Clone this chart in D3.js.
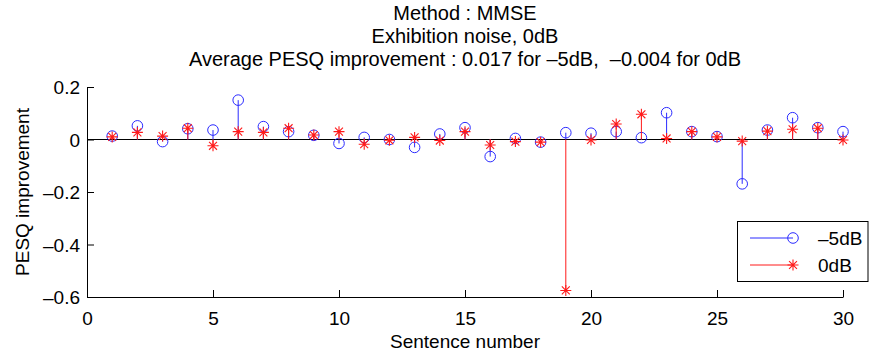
<!DOCTYPE html>
<html>
<head>
<meta charset="utf-8">
<script src="https://cdn.jsdelivr.net/npm/d3@7/dist/d3.min.js"></script>
<style>
  html, body { margin: 0; padding: 0; background: #fff; }
  svg { display: block; font-family: "Liberation Sans", Arial, sans-serif; }
</style>
</head>
<body>
<svg id="chart" width="869" height="358"></svg>
<script>
// Sentence indices
const sentences = d3.range(1, 31);

// PESQ improvement per sentence at -5 dB input SNR
const improvementM5 = [
  0.013, 0.052, -0.008, 0.041, 0.036, 0.150, 0.049, 0.030, 0.016, -0.015,
  0.008, 0.000, -0.030, 0.021, 0.045, -0.065, 0.004, -0.010, 0.026, 0.024,
  0.030, 0.007, 0.102, 0.030, 0.011, -0.169, 0.036, 0.083, 0.045, 0.030
];

// PESQ improvement per sentence at 0 dB input SNR
const improvement0 = [
  0.010, 0.027, 0.013, 0.043, -0.024, 0.030, 0.027, 0.043, 0.017, 0.030,
  -0.018, -0.003, 0.008, -0.004, 0.030, -0.021, -0.008, -0.010, -0.575, -0.002,
  0.059, 0.096, 0.004, 0.030, 0.010, -0.006, 0.032, 0.039, 0.043, -0.002
];

const xTicks = [0, 5, 10, 15, 20, 25, 30];
const yTicks = [0.2, 0, -0.2, -0.4, -0.6];

const titleLines = [
  "Method : MMSE",
  "Exhibition noise, 0dB",
  "Average PESQ improvement : 0.017 for \u20135dB,\u00a0\u00a0\u20130.004 for 0dB"
];
const legendLabels = ["\u20135dB", "0dB"];

const BLUE = "#2b2bff";
const RED = "#ff1a1a";
const FONT = "19px";
const TITLE_FONT = "20px";

const svg = d3.select("#chart");
const margin = { left: 87, right: 26, top: 87, bottom: 61 };
const W = 869, H = 358;

const x = d3.scaleLinear().domain([0, 30]).range([margin.left, W - margin.right]);
const y = d3.scaleLinear().domain([-0.6, 0.2]).range([H - margin.bottom, margin.top]);

const fmt = v => (v < 0 ? "\u2013" : "") + d3.format("")(Math.abs(v));

// Axes (left and bottom only, ticks pointing inward)
const xAxis = d3.axisBottom(x).tickValues(xTicks).tickSizeInner(-7).tickSizeOuter(0).tickPadding(15).tickFormat(fmt);
const yAxis = d3.axisLeft(y).tickValues(yTicks).tickSizeInner(-7).tickSizeOuter(0).tickPadding(7).tickFormat(fmt);

const gx = svg.append("g").attr("transform", `translate(0,${y(-0.6)})`).call(xAxis);
const gy = svg.append("g").attr("transform", `translate(${x(0)},0)`).call(yAxis);
[gx, gy].forEach(g => {
  g.selectAll("path, line").attr("stroke", "#000").attr("stroke-width", 1);
  g.selectAll("text").attr("fill", "#000").style("font-size", FONT);
});
gy.selectAll("text").attr("dy", "0.35em");

// Stem baseline
svg.append("line")
  .attr("x1", x(0)).attr("x2", x(30))
  .attr("y1", y(0)).attr("y2", y(0))
  .attr("stroke", "#000").attr("stroke-width", 1.2);

// -5 dB stems with circle markers
const m5 = svg.append("g");
m5.selectAll("line").data(sentences).join("line")
  .attr("x1", d => x(d)).attr("x2", d => x(d))
  .attr("y1", y(0)).attr("y2", (d, i) => y(improvementM5[i]))
  .attr("stroke", BLUE).attr("stroke-width", 1);
m5.selectAll("circle").data(sentences).join("circle")
  .attr("cx", d => x(d)).attr("cy", (d, i) => y(improvementM5[i]))
  .attr("r", 5.3).attr("fill", "none").attr("stroke", BLUE).attr("stroke-width", 1);

// Asterisk marker path centred at the origin
function asterisk(s) {
  const d = s * 0.72;
  return `M${-s},0L${s},0M0,${-s}L0,${s}M${-d},${-d}L${d},${d}M${-d},${d}L${d},${-d}`;
}

// 0 dB stems with asterisk markers
const m0 = svg.append("g");
m0.selectAll("line").data(sentences).join("line")
  .attr("x1", d => x(d)).attr("x2", d => x(d))
  .attr("y1", y(0)).attr("y2", (d, i) => y(improvement0[i]))
  .attr("stroke", RED).attr("stroke-width", 1);
m0.selectAll("path").data(sentences).join("path")
  .attr("transform", (d, i) => `translate(${x(d)},${y(improvement0[i])})`)
  .attr("d", asterisk(5.5))
  .attr("fill", "none").attr("stroke", RED).attr("stroke-width", 1.1);

// Title
svg.append("g").selectAll("text").data(titleLines).join("text")
  .attr("x", (x(0) + x(30)) / 2).attr("y", (d, i) => 20 + i * 23)
  .attr("text-anchor", "middle").style("font-size", TITLE_FONT).attr("fill", "#000")
  .text(d => d);

// Axis labels
svg.append("text")
  .attr("x", (x(0) + x(30)) / 2).attr("y", 348)
  .attr("text-anchor", "middle").style("font-size", FONT).attr("fill", "#000")
  .text("Sentence number");
svg.append("text")
  .attr("transform", `translate(29,${(y(0.2) + y(-0.6)) / 2}) rotate(-90)`)
  .attr("text-anchor", "middle").style("font-size", FONT).attr("fill", "#000")
  .text("PESQ improvement");

// Legend
const lg = svg.append("g");
lg.append("rect")
  .attr("x", 737.5).attr("y", 221.5).attr("width", 130.5).attr("height", 60)
  .attr("fill", "#fff").attr("stroke", "#000").attr("stroke-width", 1);
const rows = [238, 265];
[BLUE, RED].forEach((c, i) => {
  lg.append("line").attr("x1", 750).attr("x2", 793).attr("y1", rows[i]).attr("y2", rows[i])
    .attr("stroke", c).attr("stroke-width", 1);
  if (i === 0) {
    lg.append("circle").attr("cx", 793).attr("cy", rows[i]).attr("r", 5.3)
      .attr("fill", "none").attr("stroke", c).attr("stroke-width", 1);
  } else {
    lg.append("path").attr("transform", `translate(793,${rows[i]})`).attr("d", asterisk(5.5))
      .attr("fill", "none").attr("stroke", c).attr("stroke-width", 1.1);
  }
  lg.append("text").attr("x", 818).attr("y", rows[i]).attr("dy", "0.35em")
    .style("font-size", FONT).attr("fill", "#000").text(legendLabels[i]);
});
</script>
</body>
</html>
